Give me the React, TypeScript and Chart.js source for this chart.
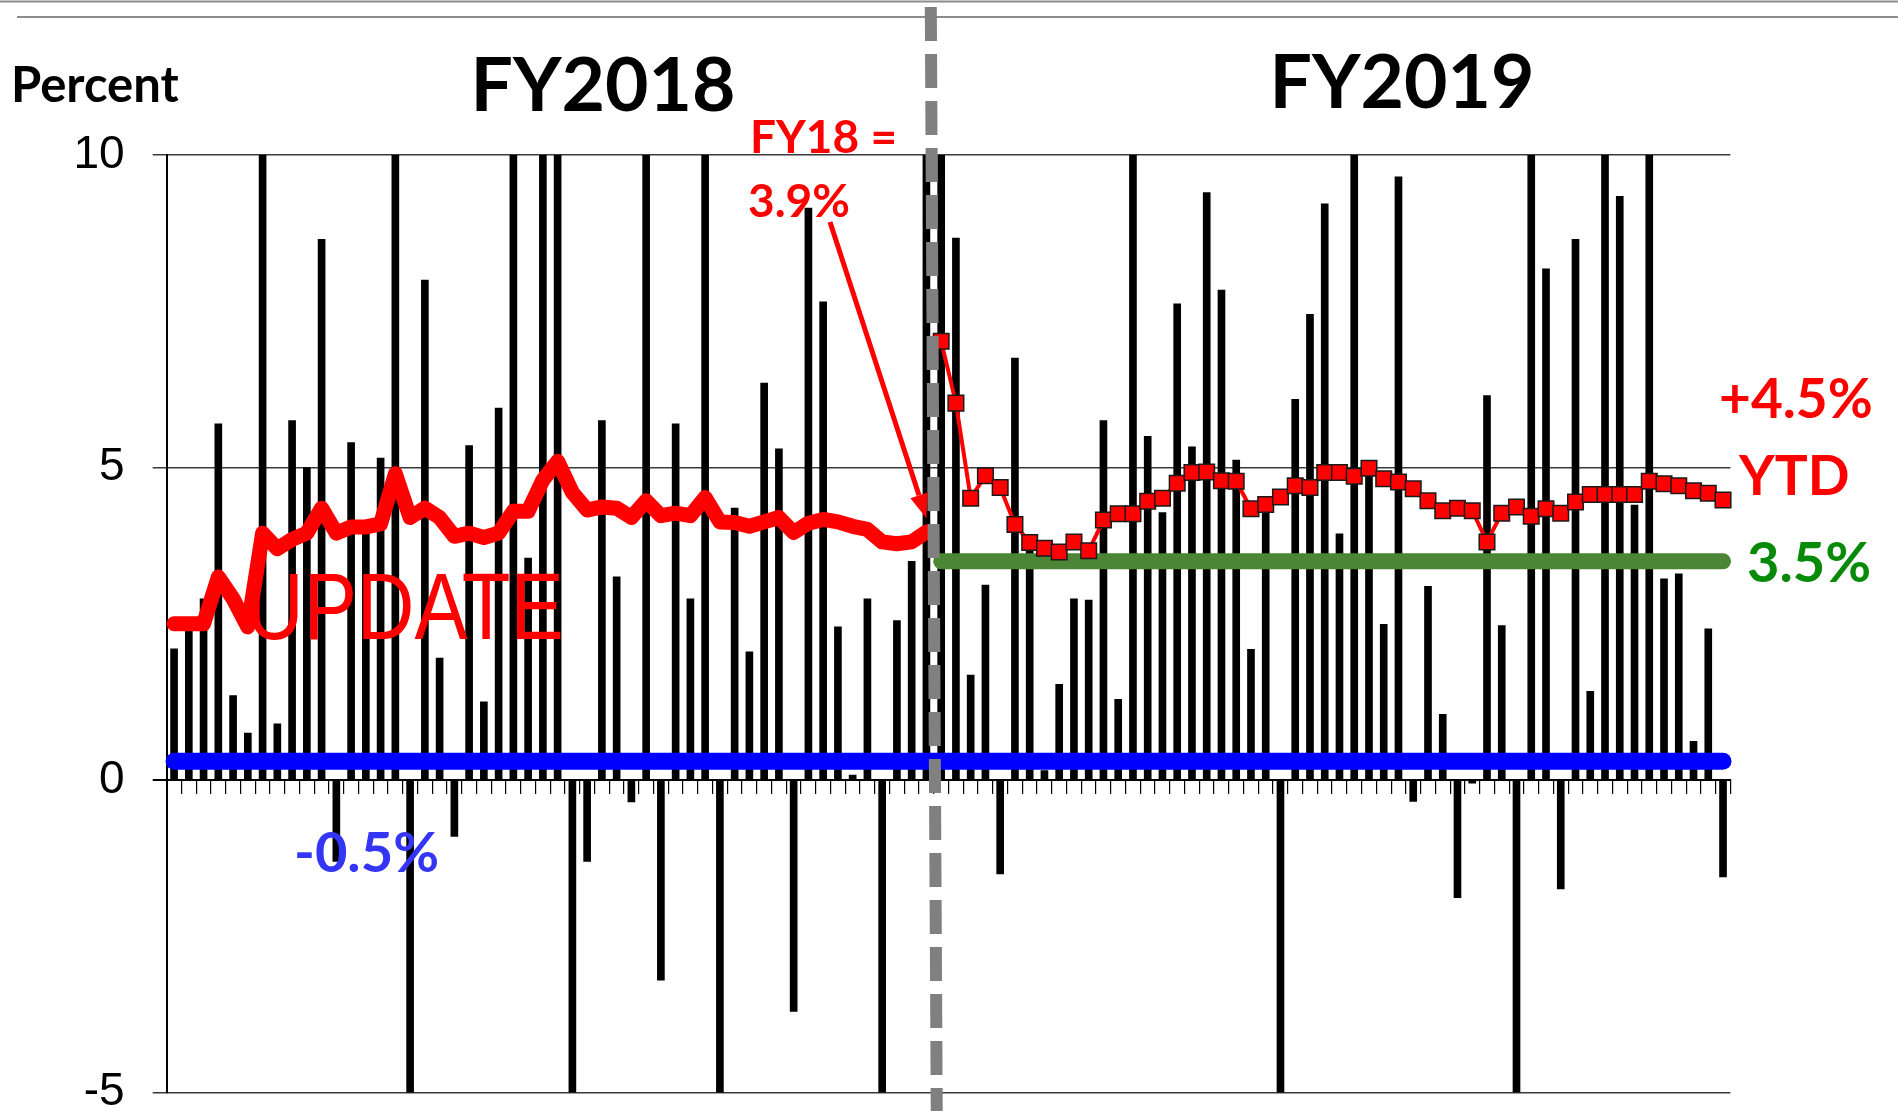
import React, { useEffect, useRef } from 'react';
import { Chart, registerables } from 'chart.js';

Chart.register(...registerables);

// Weekly percent changes (bars), FY2018 then FY2019
const fy18Changes = [
  2.1, 2.4, 2.9, 5.7, 1.35, 0.75, 10, 0.9, 5.75, 5.0,
  8.65, -1.3, 5.4, 4.1, 5.15, 10, -5, 8.0, 1.95, -0.9,
  5.35, 1.25, 5.95, 10, 3.55, 10, 10, -5, -1.3, 5.75,
  3.25, -0.35, 10, -3.2, 5.7, 2.9, 10, -5, 4.35, 2.05,
  6.35, 5.3, -3.7, 9.15, 7.65, 2.45, 0.08, 2.9, -5, 2.55,
  3.5, 10,
];
const fy19Changes = [
  10, 8.67, 1.68, 3.12, -1.5, 6.75, 3.8, 0.15, 1.53, 2.9,
  2.88, 5.75, 1.29, 10, 5.5, 4.28, 7.62, 5.33, 9.4, 7.84,
  5.12, 2.09, 4.3, -5, 6.09, 7.45, 9.22, 3.94, 10, 4.9,
  2.49, 9.65, -0.34, 3.1, 1.05, -1.88, -0.05, 6.15, 2.47, -5,
  10, 8.18, -1.74, 8.65, 1.42, 10, 9.34, 4.4, 10, 3.22,
  3.3, 0.62, 2.42, -1.55,
];

// Year-to-date lines
const fy18Ytd = [
  2.5, 2.5, 2.5, 3.25, 2.9, 2.45, 3.95, 3.7, 3.85, 3.95,
  4.35, 3.95, 4.05, 4.05, 4.1, 4.9, 4.2, 4.35, 4.2, 3.9,
  3.95, 3.88, 3.95, 4.3, 4.3, 4.8, 5.1, 4.6, 4.32, 4.37,
  4.35, 4.2, 4.47, 4.23, 4.27, 4.23, 4.52, 4.13, 4.12, 4.06,
  4.13, 4.2, 3.96, 4.11, 4.17, 4.13, 4.06, 4.01, 3.81, 3.78,
  3.81, 3.97,
];
const fy19Ytd = [
  7.02, 6.03, 4.51, 4.87, 4.68, 4.09, 3.8, 3.71, 3.65, 3.81,
  3.67, 4.16, 4.26, 4.26, 4.46, 4.51, 4.75, 4.92, 4.93, 4.79,
  4.78, 4.34, 4.41, 4.53, 4.71, 4.68, 4.92, 4.92, 4.86, 4.99,
  4.82, 4.77, 4.66, 4.47, 4.31, 4.35, 4.31, 3.81, 4.27, 4.37,
  4.22, 4.34, 4.27, 4.45, 4.57, 4.57, 4.57, 4.57, 4.78, 4.74,
  4.71, 4.63, 4.59, 4.48,
];

const baseLevel = 0.3; // blue reference line
const fy19Target = 3.5; // green target line
const yTicks = [-5, 0, 5, 10];

const categories = [
  ...fy18Changes.map((_, i) => `FY18 W${i + 1}`),
  ...fy19Changes.map((_, i) => `FY19 W${i + 1}`),
];

const n18 = fy18Changes.length;
const n19 = fy19Changes.length;
const nullsFor = (k: number) => new Array(k).fill(null);

const LATO = 'Lato, "Open Sans", sans-serif';

const annotations = {
  id: 'annotations',
  beforeDraw(chart: any) {
    const { ctx, width } = chart;
    ctx.save();
    ctx.fillStyle = '#ffffff';
    ctx.fillRect(0, 0, chart.width, chart.height);
    ctx.strokeStyle = '#8c8c8c';
    ctx.lineWidth = 2;
    ctx.beginPath();
    ctx.moveTo(0, 1.5);
    ctx.lineTo(width, 1.5);
    ctx.moveTo(17, 17);
    ctx.lineTo(width, 17);
    ctx.stroke();
    ctx.restore();
  },
  afterDatasetsDraw(chart: any) {
    const { ctx } = chart;
    const x = chart.scales.x;
    const y = chart.scales.y;
    const boundary = (x.getPixelForValue(n18 - 1) + x.getPixelForValue(n18)) / 2;

    // dashed FY divider
    ctx.save();
    ctx.strokeStyle = '#808080';
    ctx.lineWidth = 12;
    ctx.setLineDash([34, 13]);
    ctx.beginPath();
    ctx.moveTo(boundary - 3, 7);
    ctx.lineTo(boundary + 3, chart.height + 10);
    ctx.stroke();
    ctx.restore();

    // arrow from label to end of FY18 line
    const tipX = x.getPixelForValue(n18 - 1);
    const tipY = y.getPixelForValue(fy18Ytd[n18 - 1] + 0.22);
    const sx = 830;
    const sy = 222;
    const ang = Math.atan2(tipY - sy, tipX - sx);
    const headLen = 24;
    const headHalf = 9;
    const bx = tipX - headLen * Math.cos(ang);
    const by = tipY - headLen * Math.sin(ang);
    ctx.save();
    ctx.strokeStyle = '#ff0000';
    ctx.fillStyle = '#ff0000';
    ctx.lineWidth = 5;
    ctx.beginPath();
    ctx.moveTo(sx, sy);
    ctx.lineTo(bx, by);
    ctx.stroke();
    ctx.beginPath();
    ctx.moveTo(tipX, tipY);
    ctx.lineTo(bx + headHalf * Math.sin(ang), by - headHalf * Math.cos(ang));
    ctx.lineTo(bx - headHalf * Math.sin(ang), by + headHalf * Math.cos(ang));
    ctx.closePath();
    ctx.fill();
    ctx.restore();

    // texts
    ctx.save();
    ctx.textBaseline = 'alphabetic';
    ctx.textAlign = 'left';
    ctx.fillStyle = '#000000';
    ctx.font = `bold 49px ${LATO}`;
    ctx.fillText('Percent', 11, 102);

    ctx.textAlign = 'center';
    ctx.font = `bold 75px ${LATO}`;
    ctx.fillText('FY2018', 603, 111);
    ctx.fillText('FY2019', 1402, 108);

    ctx.textAlign = 'left';
    ctx.fillStyle = '#ff0000';
    ctx.font = `bold 46px ${LATO}`;
    ctx.fillText('FY18 =', 750, 153);
    ctx.fillText('3.9%', 748, 217);

    ctx.font = `bold 55px ${LATO}`;
    ctx.fillText('+4.5%', 1719, 418);
    ctx.fillText('YTD', 1739, 495);

    ctx.fillStyle = '#078a07';
    ctx.font = `bold 56px ${LATO}`;
    ctx.fillText('3.5%', 1747, 582);

    ctx.fillStyle = '#3535f5';
    ctx.font = `bold 56px ${LATO}`;
    ctx.fillText('-0.5%', 294, 872);

    // UPDATE (condensed)
    ctx.fillStyle = '#ff0000';
    ctx.font = '95px "Liberation Sans", Arial, sans-serif';
    ctx.translate(246, 639);
    ctx.scale(0.84, 1);
    ctx.fillText('UPDATE', 0, 0);
    ctx.restore();
  },
};

export default function App() {
  const canvasRef = useRef<HTMLCanvasElement | null>(null);

  useEffect(() => {
    document.body.style.margin = '0';
    const canvas = canvasRef.current;
    if (!canvas) return;

    const chart = new Chart(canvas, {
      type: 'bar',
      data: {
        labels: categories,
        datasets: [
          {
            type: 'bar',
            label: 'Weekly change',
            data: [...fy18Changes, ...fy19Changes],
            backgroundColor: '#000000',
            borderWidth: 0,
            barThickness: 7,
            order: 5,
          } as any,
          {
            type: 'line',
            label: 'Base',
            data: categories.map(() => baseLevel),
            borderColor: '#0000ff',
            borderWidth: 17,
            borderCapStyle: 'round',
            pointRadius: 0,
            order: 4,
          },
          {
            type: 'line',
            label: 'FY19 target',
            data: [...nullsFor(n18), ...fy19Changes.map(() => fy19Target)],
            borderColor: '#4b8535',
            borderWidth: 16,
            borderCapStyle: 'round',
            pointRadius: 0,
            order: 3,
          },
          {
            type: 'line',
            label: 'FY18 YTD',
            data: [...fy18Ytd, ...nullsFor(n19)],
            borderColor: '#ff0000',
            borderWidth: 15,
            borderCapStyle: 'round',
            borderJoinStyle: 'round',
            pointRadius: 0,
            tension: 0,
            order: 2,
          },
          {
            type: 'line',
            label: 'FY19 YTD',
            data: [...nullsFor(n18), ...fy19Ytd],
            borderColor: '#ff0000',
            borderWidth: 4,
            pointStyle: 'rect',
            pointRadius: 11,
            pointBorderWidth: 1.5,
            pointBorderColor: '#1a1a1a',
            pointBackgroundColor: '#ff0000',
            tension: 0,
            order: 1,
          },
        ],
      },
      options: {
        responsive: false,
        animation: false,
        devicePixelRatio: 1,
        layout: { padding: { left: 0, top: 155, right: 167.6, bottom: 18.4 } },
        plugins: {
          legend: { display: false },
          tooltip: { enabled: false },
          title: { display: false },
        },
        scales: {
          x: {
            type: 'category',
            position: { y: 0 } as any,
            offset: true,
            afterFit: (scale: any) => {
              scale.height = 0;
            },
            grid: {
              offset: true,
              drawOnChartArea: false,
              drawTicks: true,
              tickLength: 13,
              color: '#000000',
              lineWidth: 1.2,
            },
            border: { display: true, color: '#000000', width: 2 },
            ticks: { display: false, autoSkip: false },
          },
          y: {
            min: -5,
            max: 10,
            afterFit: (scale: any) => {
              scale.width = 166.7;
              scale.paddingTop = 0;
              scale.paddingBottom = 0;
            },
            afterBuildTicks: (scale: any) => {
              scale.ticks = yTicks.map((v) => ({ value: v }));
            },
            grid: {
              color: (c: any) => (c.tick && c.tick.value === 0 ? '#000000' : '#3a3a3a'),
              lineWidth: (c: any) => (c.tick && c.tick.value === 0 ? 2 : 1.5),
              tickLength: 14,
              drawTicks: true,
            },
            border: { display: true, color: '#000000', width: 2 },
            ticks: {
              padding: 28,
              color: '#000000',
              font: { family: '"Liberation Sans", Arial, sans-serif', size: 46 },
            },
          },
        },
      },
      plugins: [annotations],
    });

    return () => chart.destroy();
  }, []);

  return (
    <div style={{ width: 1898, height: 1111, position: 'relative' }}>
      <canvas ref={canvasRef} width={1898} height={1111} style={{ display: 'block' }} />
    </div>
  );
}
